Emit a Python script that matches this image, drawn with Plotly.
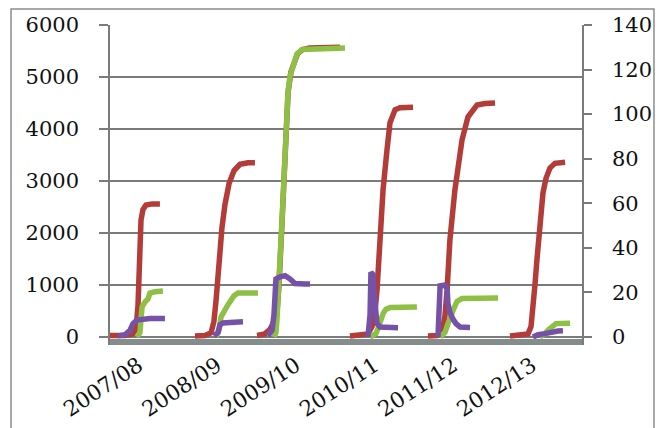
import plotly.graph_objects as go

# ---------------- data (x = week index from start of 2007/08, 52 weeks per season) -------------
SEASONS = ["2007/08", "2008/09", "2009/10", "2010/11", "2011/12", "2012/13"]
LABEL_WEEKS = [19, 71, 123, 175, 227, 279]

LEFT_TICKS = [0, 1000, 2000, 3000, 4000, 5000, 6000]
RIGHT_TICKS = [0, 20, 40, 60, 80, 100, 120, 140]

# red series (left axis)
RED_WEEKS = [
    [0, 9.9, 15.2, 17.2, 18.5, 19.2, 19.8, 20.5, 21.8, 23.8, 27.8, 33.0],
    [56.2, 62.8, 66.8, 68.7, 70.1, 71.4, 72.7, 74.0, 76.0, 78.7, 82.0, 85.9, 91.2, 95.8],
    [97.2, 102.4, 105.8, 108.4, 110.4, 111.7, 113.7, 115.7, 117.7, 119.6, 121.6, 124.0, 127.5, 132.0, 152.0],
    [158.6, 166.6, 170.5, 173.2, 175.2, 176.5, 178.5, 180.5, 183.1, 185.1, 188.4, 191.7, 200.3],
    [210.2, 216.1, 219.5, 221.4, 222.8, 224.7, 228.0, 232.7, 236.6, 242.6, 247.9, 254.5],
    [264.4, 272.3, 276.3, 278.3, 279.6, 280.9, 282.2, 284.2, 286.2, 288.2, 290.8, 294.1, 300.8],
]
RED_VALUES = [
    [30, 30, 60, 150, 600, 1300, 1900, 2250, 2450, 2540, 2560, 2560],
    [20, 30, 80, 300, 700, 1200, 1700, 2100, 2550, 2950, 3200, 3320, 3350, 3350],
    [30, 60, 150, 300, 500, 1000, 2200, 3500, 4700, 5100, 5300, 5450, 5530, 5560, 5570],
    [20, 30, 60, 200, 500, 900, 1870, 2830, 3600, 4120, 4370, 4410, 4420],
    [20, 30, 80, 400, 900, 1870, 2830, 3790, 4230, 4460, 4490, 4500],
    [20, 30, 60, 200, 500, 1000, 1480, 2120, 2770, 3050, 3250, 3340, 3360],
]

# green series (right axis)
GREEN_WEEKS = [
    [17.8, 19.8, 20.5, 21.2, 23.1, 25.1, 26.4, 29.7, 35.0],
    [70.1, 72.0, 73.4, 74.7, 76.7, 78.0, 80.0, 82.0, 84.6, 97.8],
    [108.4, 109.7, 110.4, 111.0, 112.4, 113.7, 115.7, 117.7, 119.0, 121.0, 123.6, 126.9, 155.3],
    [171.9, 175.8, 177.8, 179.1, 180.5, 182.4, 185.1, 202.9],
    [218.2, 221.4, 223.4, 225.4, 227.4, 229.4, 232.7, 256.5],
    [284.2, 287.5, 290.2, 292.2, 294.8, 304.1],
]
GREEN_VALUES = [
    [0, 2, 8, 13.5, 15.7, 17, 19.7, 20.3, 20.6],
    [0, 3, 9, 11, 13, 14.5, 16.5, 18.5, 19.7, 19.7],
    [0, 2, 8, 20, 35, 52, 82, 110, 117, 122, 127, 129, 129.7],
    [0, 1.5, 5, 8, 10.5, 12.5, 13.2, 13.5],
    [0, 2, 6, 10, 13, 16, 17.3, 17.5],
    [0, 1.5, 3.5, 4.5, 6, 6.2],
]

# purple series (right axis)
PURPLE_WEEKS = [
    [5.3, 9.9, 13.2, 15.2, 17.8, 23.1, 26.4, 36.3],
    [68.7, 71.4, 72.7, 74.7, 79.3, 85.9, 87.9],
    [104.4, 107.1, 108.4, 109.1, 109.7, 112.4, 115.7, 119.0, 122.3, 128.9, 132.2],
    [170.5, 171.9, 172.5, 173.9, 174.5, 175.2, 176.5, 178.5, 190.4],
    [216.8, 218.2, 220.8, 222.8, 223.4, 224.7, 226.7, 228.7, 231.4, 238.0],
    [279.6, 282.9, 287.5, 292.2, 296.1, 299.4],
]
PURPLE_VALUES = [
    [0.5, 1, 3, 6, 7.6, 8, 8.3, 8.3],
    [0.5, 2, 5.5, 6.3, 6.5, 6.8, 6.8],
    [0.5, 3, 10, 20, 26, 27, 27.5, 26, 24, 23.8, 23.8],
    [0, 10, 29, 28, 20, 12, 6, 4.5, 4.2],
    [0, 23, 23.3, 22, 15, 11, 8, 6, 4.5, 4.3],
    [0, 1, 1.5, 2.3, 2.7, 2.8],
]

RED = "#b33c38"
GREEN = "#8fc046"
PURPLE = "#7552a8"
GRID = "#7b7b7b"
FONT = "DejaVu Serif"


def join(week_lists, value_lists):
    xs, ys = [], []
    for w, v in zip(week_lists, value_lists):
        xs += list(w) + [None]
        ys += list(v) + [None]
    return xs, ys


fig = go.Figure()
rx, ry = join(RED_WEEKS, RED_VALUES)
gx, gy = join(GREEN_WEEKS, GREEN_VALUES)
px_, py_ = join(PURPLE_WEEKS, PURPLE_VALUES)

fig.add_trace(go.Scatter(x=rx, y=ry, mode="lines", line=dict(color=RED, width=5.5),
                         connectgaps=False, showlegend=False))
fig.add_trace(go.Scatter(x=gx, y=gy, mode="lines", line=dict(color=GREEN, width=5.5),
                         connectgaps=False, showlegend=False, yaxis="y2"))
fig.add_trace(go.Scatter(x=px_, y=py_, mode="lines", line=dict(color=PURPLE, width=5.5),
                         connectgaps=False, showlegend=False, yaxis="y2"))

Y_MIN = -154
fig.update_layout(
    width=659, height=428,
    margin=dict(l=110, r=77, t=25, b=83, autoexpand=False),
    paper_bgcolor="white", plot_bgcolor="white",
    font=dict(family=FONT, size=21, color="#111111"),
    xaxis=dict(range=[0, 312], tickvals=LABEL_WEEKS, ticktext=SEASONS, tickangle=-33,
               tickfont=dict(size=21.5), ticklabelstandoff=3, automargin=False,
               showgrid=False, zeroline=False, showline=False, ticks=""),
    yaxis=dict(range=[Y_MIN, 6000], tickvals=LEFT_TICKS, showgrid=True, gridcolor=GRID,
               gridwidth=1.6, zeroline=False, showline=True, linecolor=GRID, linewidth=1.6,
               ticks="outside", ticklen=9, tickcolor=GRID, tickwidth=1.6, ticklabelstandoff=16,
               automargin=False),
    yaxis2=dict(range=[Y_MIN * 140 / 6000, 140], tickvals=RIGHT_TICKS, overlaying="y",
                side="right", showgrid=False, zeroline=False, showline=True, linecolor=GRID,
                linewidth=1.6, ticks="outside", ticklen=8, tickcolor=GRID, tickwidth=1.6,
                ticklabelstandoff=16, automargin=False),
    shapes=[
        dict(type="rect", xref="x", yref="y", x0=0, x1=312, y0=Y_MIN, y1=-40,
             fillcolor="#858d8c", line=dict(width=0), layer="above"),
        dict(type="rect", xref="paper", yref="paper", x0=-0.2097, x1=1.1525, y0=-0.3, y1=1.05,
             line=dict(color="#8c8c8c", width=1.5), fillcolor="rgba(0,0,0,0)"),
    ],
)

fig.write_html("out.html")
